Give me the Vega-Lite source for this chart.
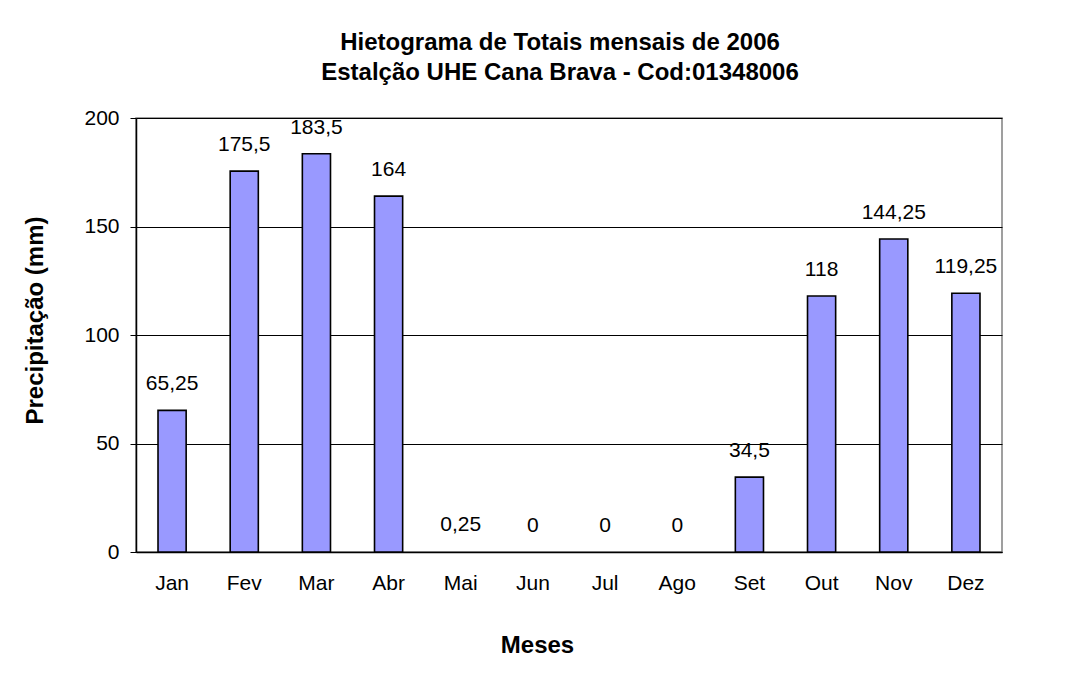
{
  "$schema": "https://vega.github.io/schema/vega-lite/v6.json",
  "autosize": {"type": "none"},
  "width": 866,
  "height": 434,
  "padding": {"left": 136, "top": 118, "right": 68, "bottom": 123},
  "background": "white",
  "config": {
    "font": "Liberation Sans",
    "view": {"stroke": "#808080", "strokeWidth": 1.5},
    "locale": {"number": {"decimal": ",", "thousands": ".", "grouping": [3], "currency": ["R$", ""]}}
  },
  "title": {
    "text": ["Hietograma de Totais mensais de 2006", "Estalção UHE Cana Brava - Cod:01348006"],
    "fontSize": 24,
    "fontWeight": "bold",
    "font": "Liberation Sans",
    "color": "black",
    "lineHeight": 30,
    "anchor": "middle",
    "dx": -9,
    "offset": 22
  },
  "data": {
    "values": [
      {"mes": "Jan", "precip": 65.25},
      {"mes": "Fev", "precip": 175.5},
      {"mes": "Mar", "precip": 183.5},
      {"mes": "Abr", "precip": 164},
      {"mes": "Mai", "precip": 0.25},
      {"mes": "Jun", "precip": 0},
      {"mes": "Jul", "precip": 0},
      {"mes": "Ago", "precip": 0},
      {"mes": "Set", "precip": 34.5},
      {"mes": "Out", "precip": 118},
      {"mes": "Nov", "precip": 144.25},
      {"mes": "Dez", "precip": 119.25}
    ]
  },
  "encoding": {
    "x": {
      "field": "mes",
      "type": "nominal",
      "sort": null,
      "scale": {
        "domain": ["Jan", "Fev", "Mar", "Abr", "Mai", "Jun", "Jul", "Ago", "Set", "Out", "Nov", "Dez"],
        "paddingInner": 0.61,
        "paddingOuter": 0.305
      },
      "axis": {
        "title": "Meses",
        "titleFontSize": 24,
        "titleFontWeight": "bold",
        "titleColor": "black",
        "titleX": 401,
        "titleY": 93,
        "titleBaseline": "middle",
        "labelAngle": 0,
        "labelFontSize": 21,
        "labelColor": "black",
        "labelPadding": 20,
        "ticks": false,
        "domainColor": "black",
        "domainWidth": 1.5
      }
    },
    "y": {
      "field": "precip",
      "type": "quantitative",
      "scale": {"domain": [0, 200], "nice": false},
      "axis": {
        "title": "Precipitação (mm)",
        "titleFontSize": 24,
        "titleFontWeight": "bold",
        "titleColor": "black",
        "titleX": -101,
        "titleY": 202,
        "titleBaseline": "middle",
        "values": [0, 50, 100, 150, 200],
        "format": "d",
        "labelFontSize": 21,
        "labelColor": "black",
        "labelPadding": 11,
        "tickSize": 6,
        "tickColor": "black",
        "domainColor": "black",
        "domainWidth": 1.5,
        "gridColor": "black",
        "gridWidth": 1,
        "gridOpacity": 1
      }
    }
  },
  "layer": [
    {
      "transform": [{"filter": "datum.precip > 0.5"}],
      "mark": {"type": "bar", "fill": "#9999FF", "stroke": "black", "strokeWidth": 1.6}
    },
    {
      "mark": {"type": "text", "baseline": "alphabetic", "dy": -20, "fontSize": 21, "color": "black"},
      "encoding": {
        "text": {"field": "precip", "type": "quantitative", "format": "~f"}
      }
    }
  ]
}
